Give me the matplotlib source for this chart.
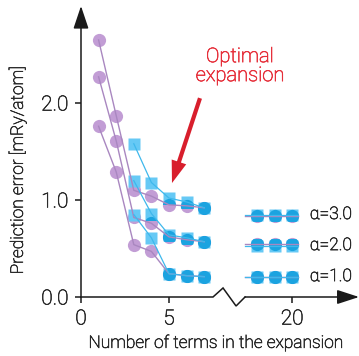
import matplotlib
matplotlib.use("Agg")
import matplotlib.pyplot as plt
import matplotlib.patheffects as pe
from matplotlib.patches import Rectangle

plt.rcParams['font.family'] = ['Roboto', 'DejaVu Sans']
plt.rcParams['font.weight'] = 'light'

# data (number of terms -> prediction error)
terms_purple = [1, 2, 3, 4, 5, 6, 7]
purple_a1 = [1.76, 1.29, 0.54, 0.47, 0.24, 0.22, 0.21]
purple_a2 = [2.27, 1.61, 0.82, 0.76, 0.62, 0.59, 0.57]
purple_a3 = [2.65, 1.87, 1.10, 1.04, 0.95, 0.94, 0.92]

terms_blue = [3, 4, 5, 6, 7]
blue_a1 = [0.85, 0.61, 0.24, 0.22, 0.21]
blue_a2 = [1.20, 0.86, 0.64, 0.61, 0.57]
blue_a3 = [1.58, 1.18, 1.02, 0.98, 0.92]

terms_far = [18, 19, 20]
purple_far = [[0.21, 0.21, 0.21], [0.55, 0.55, 0.55], [0.83, 0.83, 0.83]]
blue_far = [[0.21, 0.21, 0.21], [0.53, 0.53, 0.53], [0.85, 0.85, 0.85]]
alpha_labels = ['α=1.0', 'α=2.0', 'α=3.0']

xticks = [0, 5, 20]
yticks = [0.0, 1.0, 2.0]

BREAK = 8  # terms removed by the axis break


def disp(x):
    # broken axis: shift the far part to the left
    return [v - BREAK if v > 10 else v for v in x]


PURPLE = '#c29dd5'
PURPLE_LINE = '#a987c0'
BLUE = '#66c9f5'
BLUE_DARK = '#1ba3e0'
BLUE_LINE = '#3fb8ec'
DARK = '#1a1a1a'
TXT = '#2a2a2a'
RED = '#d81e2c'
RED_TXT = '#e6303b'


def thick(color):
    # light font, but a touch heavier
    return [pe.withStroke(linewidth=0.45, foreground=color)]


fig = plt.figure(figsize=(3.59, 3.56), dpi=100)
ax = fig.add_axes([81 / 359, 59 / 356, 278 / 359, 291 / 356])
xmax = 278 / 17.6
ymax = 291 / 97
ax.set_xlim(0, xmax)
ax.set_ylim(0, ymax)

MS_C = 9.5   # circle size (pt)
MS_S = 8.8   # square size (pt)
sq_w = MS_S / 72 * 100 / 17.6   # square width in data units
sq_h = MS_S / 72 * 100 / 97


def overlap(xs, yp_list, xb, yb_list):
    # darker blue where a purple circle sits under a blue square
    for x, yb in zip(xb, yb_list):
        if x not in xs:
            continue
        yp = yp_list[xs.index(x)]
        rect = Rectangle((x - sq_w / 2, yb - sq_h / 2), sq_w, sq_h,
                         transform=ax.transData)
        ln, = ax.plot([x], [yp], 'o', color=BLUE_DARK, ms=MS_C, mec='none',
                      zorder=4)
        ln.set_clip_path(rect)


groups = [
    (disp(terms_purple), [purple_a1, purple_a2, purple_a3],
     disp(terms_blue), [blue_a1, blue_a2, blue_a3], 0.0),
    (disp(terms_far), purple_far, disp(terms_far), blue_far, 0.35),
]
for xp, pys, xb, bys, ext in groups:
    for yp, yb in zip(pys, bys):
        ax.plot(xp, yp, 'o', color=PURPLE, ms=MS_C, mec='none', zorder=2)
        ax.plot(xb, yb, 's', color=BLUE, ms=MS_S, mec='none', zorder=3)
        overlap(xp, yp, xb, yb)
        if ext:
            ax.plot([xp[0] - 2 * ext, xp[-1] + ext], [yp[0], yp[-1]],
                    color=PURPLE_LINE, lw=1.0, zorder=5)
            ax.plot([xb[0] - 2 * ext, xb[-1] + ext], [yb[0], yb[-1]],
                    color=BLUE_LINE, lw=0.9, zorder=6)
        else:
            ax.plot(xp, yp, color=PURPLE_LINE, lw=1.0, zorder=5)
            ax.plot(xb, yb, color=BLUE_LINE, lw=0.9, zorder=6)

for ys, lab in zip(blue_far, alpha_labels):
    ax.text(disp(terms_far)[-1] + 1.0, ys[-1], lab, fontsize=12.5,
            color=TXT, ha='left', va='center', path_effects=thick(TXT))

# axes with arrows and a break
for s in ax.spines.values():
    s.set_visible(False)
ax.annotate('', xy=(0, ymax), xytext=(0, 0), annotation_clip=False,
            arrowprops=dict(arrowstyle='-|>,head_length=1.4,head_width=0.47',
                            mutation_scale=10, lw=1.1, color=DARK,
                            shrinkA=0, shrinkB=0))
ax.annotate('', xy=(xmax, 0), xytext=(9.32, 0), annotation_clip=False,
            arrowprops=dict(arrowstyle='-|>,head_length=1.35,head_width=0.44',
                            mutation_scale=10, lw=1.1, color=DARK,
                            shrinkA=0, shrinkB=0))
ax.plot([0, 7.5, 8.07, 8.81, 9.32], [0, 0, 0.093, -0.093, 0], color=DARK,
        lw=1.1, clip_on=False, solid_joinstyle='miter')

ax.set_xticks(disp(xticks))
ax.set_xticklabels([str(t) for t in xticks])
ax.set_yticks(yticks)
ax.set_yticklabels(['%.1f' % t for t in yticks])
ax.tick_params(direction='out', length=4, width=1.1, color=DARK,
               labelsize=15, labelcolor=TXT, pad=5)
for lbl in ax.get_xticklabels() + ax.get_yticklabels():
    lbl.set_path_effects(thick(TXT))

# annotation
ax.text(9.03, 2.38, 'Optimal\nexpansion', ha='center', va='center',
        color=RED_TXT, fontsize=14.5, linespacing=1.0,
        path_effects=thick(RED_TXT))
ax.annotate('', xy=(5.17, 1.175), xytext=(6.76, 2.05),
            arrowprops=dict(facecolor=RED, edgecolor='none', width=3,
                            headwidth=11, headlength=16, shrink=0))

fig.text(216 / 359, 13 / 356, 'Number of terms in the expansion',
         fontsize=12.5, color=TXT, ha='center', va='center',
         path_effects=thick(TXT))
fig.text(17.5 / 359, (356 - 170) / 356, 'Prediction error [mRy/atom]',
         fontsize=12.5, color=TXT, ha='center', va='center', rotation=90,
         path_effects=thick(TXT))

fig.savefig('out.png', dpi=100)
